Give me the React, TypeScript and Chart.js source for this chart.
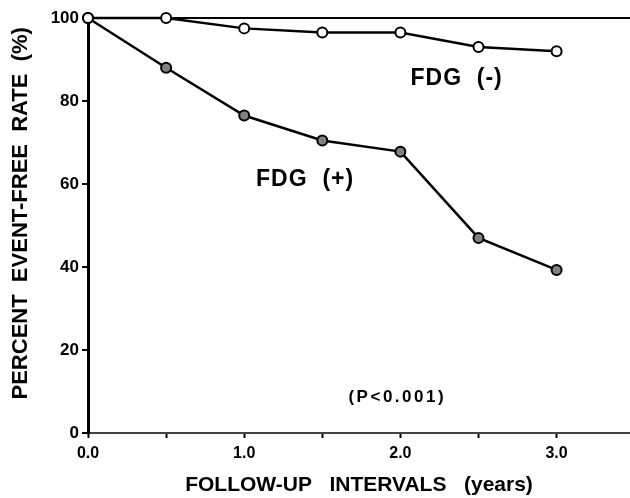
import React, { useEffect, useRef } from 'react';
import { Chart, registerables } from 'chart.js';

Chart.register(...registerables);

const years = [0, 0.5, 1.0, 1.5, 2.0, 2.5, 3.0];
const fdgNegative = [100, 100, 97.5, 96.5, 96.5, 93, 92];
const fdgPositive = [100, 88, 76.5, 70.5, 67.8, 47, 39.3];
const yTickValues = [0, 20, 40, 60, 80, 100];
const xTickLabels = ['0.0', '1.0', '2.0', '3.0'];
const xTitle = 'FOLLOW-UP   INTERVALS   (years)';
const yTitle = '    PERCENT  EVENT-FREE  RATE  (%)';

const annotationTexts = ['FDG  (-)', 'FDG  (+)', '(P<0.001)'];
const annotationX = [2.36, 1.39, 1.98];
const annotationY = [85.5, 61, 8.7];
const annotationSizes = [23, 23, 17];
const annotationSpacing = [1, 1, 2.5];

const FONT = '"Liberation Sans", Arial, sans-serif';

const textPlugin = {
  id: 'textAnnotations',
  afterDatasetsDraw(chart: any) {
    const { ctx, scales } = chart;
    ctx.save();
    ctx.fillStyle = '#000';
    ctx.textAlign = 'center';
    ctx.textBaseline = 'middle';
    annotationTexts.forEach((t, i) => {
      ctx.font = `bold ${annotationSizes[i]}px ${FONT}`;
      (ctx as any).letterSpacing = `${annotationSpacing[i]}px`;
      ctx.fillText(t, scales.x.getPixelForValue(annotationX[i]), scales.y.getPixelForValue(annotationY[i]));
    });
    ctx.restore();
  },
};

export default function App() {
  const ref = useRef<HTMLCanvasElement | null>(null);
  useEffect(() => {
    if (!ref.current) return;
    const chart = new Chart(ref.current, {
      type: 'line',
      data: {
        datasets: [
          {
            label: 'FDG (-)',
            data: years.map((x, i) => ({ x, y: fdgNegative[i] })),
            borderColor: '#000',
            borderWidth: 2.5,
            pointRadius: 5,
            pointBorderWidth: 2,
            pointBorderColor: '#000',
            pointBackgroundColor: '#fff',
            clip: false as any,
            tension: 0,
          },
          {
            label: 'FDG (+)',
            data: years.map((x, i) => ({ x, y: fdgPositive[i] })),
            borderColor: '#000',
            borderWidth: 2.5,
            pointRadius: 5,
            pointBorderWidth: 2,
            pointBorderColor: '#000',
            pointBackgroundColor: '#808080',
            clip: false as any,
            tension: 0,
          },
        ],
      },
      options: {
        responsive: false,
        animation: false,
        layout: { autoPadding: false, padding: { top: 18, right: 0, left: 0, bottom: 0 } },
        plugins: { legend: { display: false }, tooltip: { enabled: false } },
        scales: {
          x: {
            type: 'linear',
            min: 0,
            max: 3.47,
            afterFit: (s: any) => { s.height = 65; s.paddingRight = 0; s.paddingLeft = 0; },
            border: { display: true, color: '#444', width: 2 },
            grid: { drawOnChartArea: false, drawTicks: true, tickLength: 5, color: '#000', tickWidth: 2 },
            ticks: {
              stepSize: 0.5,
              includeBounds: false,
              autoSkip: false,
              maxRotation: 0,
              padding: 6,
              color: '#000',
              font: { family: FONT, size: 16, weight: 'bold' },
              callback: (v: any) => {
                const n = Number(v);
                return Number.isInteger(n) ? xTickLabels[n] ?? '' : '';
              },
            },
            title: {
              display: true,
              text: xTitle,
              color: '#000',
              font: { family: FONT, size: 21, weight: 'bold' },
              padding: { top: 0, bottom: 0 },
            },
          },
          y: {
            type: 'linear',
            min: 0,
            max: 100,
            afterFit: (s: any) => { s.width = 88; },
            afterBuildTicks: (s: any) => { s.ticks = yTickValues.map((v) => ({ value: v })); },
            border: { display: true, color: '#000', width: 3 },
            grid: {
              drawOnChartArea: true,
              drawTicks: true,
              tickLength: 6,
              lineWidth: 2,
              tickColor: '#000',
              color: (c: any) => (c.tick && c.tick.value === 100 ? '#000' : 'rgba(0,0,0,0)'),
            },
            ticks: {
              padding: 3,
              color: '#000',
              font: { family: FONT, size: 17, weight: 'bold' },
            },
            title: {
              display: true,
              text: yTitle,
              color: '#000',
              font: { family: FONT, size: 22, weight: 'bold' },
              padding: { top: 8, bottom: 0 },
            },
          },
        },
      } as any,
      plugins: [textPlugin],
    });
    return () => chart.destroy();
  }, []);
  return (
    <div style={{ position: 'absolute', left: 0, top: 0, width: 630, height: 498, background: '#fff' }}>
      <canvas ref={ref} width={630} height={498} style={{ display: 'block' }} />
    </div>
  );
}
